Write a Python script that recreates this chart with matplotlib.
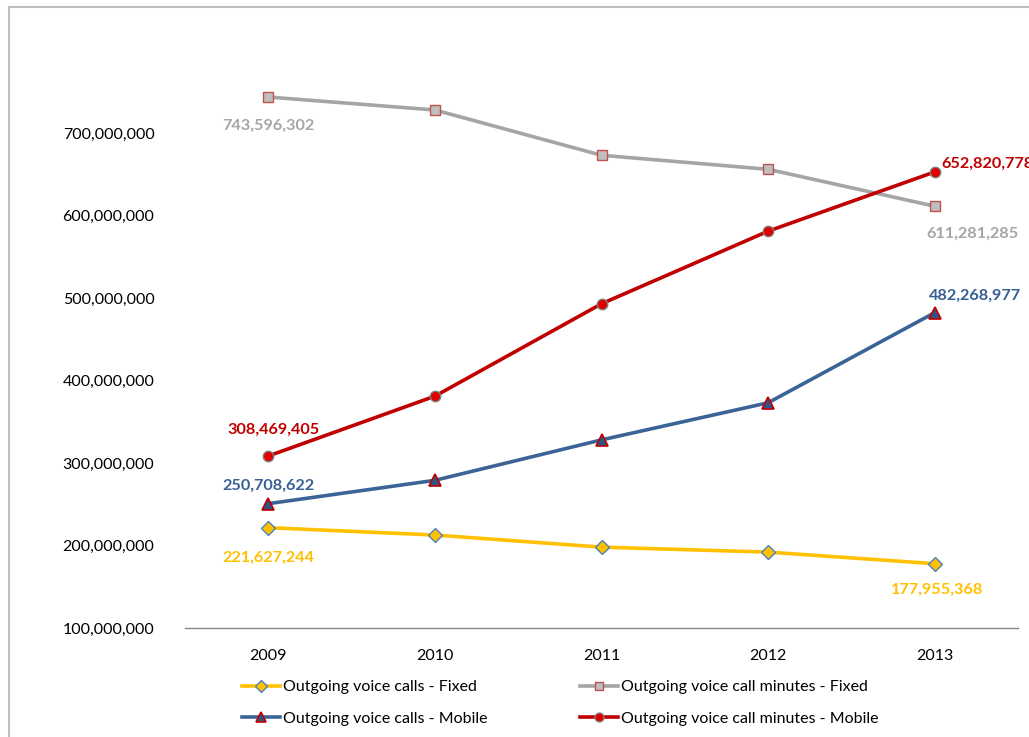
import matplotlib
matplotlib.use("Agg")
import matplotlib.pyplot as plt
from matplotlib.patches import Rectangle
from matplotlib.ticker import FuncFormatter

plt.rcParams['font.family'] = ['Lato', 'DejaVu Sans']

years = ["2009", "2010", "2011", "2012", "2013"]
calls_fixed = [221627244, 212700000, 198000000, 192000000, 177955368]
minutes_fixed = [743596302, 727900000, 673000000, 656000000, 611281285]
calls_mobile = [250708622, 279000000, 328000000, 373000000, 482268977]
minutes_mobile = [308469405, 381000000, 493000000, 581000000, 652820778]

names = ["Outgoing voice calls - Fixed", "Outgoing voice call minutes - Fixed",
         "Outgoing voice calls - Mobile", "Outgoing voice call minutes - Mobile"]

fig = plt.figure(figsize=(10.29, 7.37), dpi=100)
ax = fig.add_axes([185 / 1029, 1 - 628 / 737, (1018 - 185) / 1029, (628 - 50.5) / 737])

x = list(range(len(years)))

l1, = ax.plot(x, calls_fixed, color="#FFC000", lw=2.6, marker="D", ms=7.5,
              mfc="#FFC000", mec="#4F81BD", mew=1.0, label=names[0])
l2, = ax.plot(x, minutes_fixed, color="#A5A5A5", lw=2.6, marker="s", ms=7.5,
              mfc="#BFBFBF", mec="#C0504D", mew=1.0, label=names[1])
l3, = ax.plot(x, calls_mobile, color="#3B6496", lw=2.6, marker="^", ms=8,
              mfc="#2E5486", mec="#C00000", mew=1.2, label=names[2])
l4, = ax.plot(x, minutes_mobile, color="#C00000", lw=2.6, marker="o", ms=7.5,
              mfc="#E00000", mec="#7F7F7F", mew=1.0, label=names[3])

# data labels at first and last points
lab_kw = dict(textcoords="offset points", fontsize=11.7, fontweight="bold", va="center")
ax.annotate(f"{minutes_fixed[0]:,}", (x[0], minutes_fixed[0]), xytext=(0, -21), ha="center", color="#A6A6A6", **lab_kw)
ax.annotate(f"{minutes_fixed[-1]:,}", (x[-1], minutes_fixed[-1]), xytext=(27, -20), ha="center", color="#A6A6A6", **lab_kw)
ax.annotate(f"{minutes_mobile[0]:,}", (x[0], minutes_mobile[0]), xytext=(4, 19), ha="center", color="#C00000", **lab_kw)
ax.annotate(f"{minutes_mobile[-1]:,}", (x[-1], minutes_mobile[-1]), xytext=(5, 6), ha="left", color="#C00000", **lab_kw)
ax.annotate(f"{calls_mobile[0]:,}", (x[0], calls_mobile[0]), xytext=(0, 13), ha="center", color="#376092", **lab_kw)
ax.annotate(f"{calls_mobile[-1]:,}", (x[-1], calls_mobile[-1]), xytext=(29, 12), ha="center", color="#376092", **lab_kw)
ax.annotate(f"{calls_fixed[0]:,}", (x[0], calls_fixed[0]), xytext=(0, -22), ha="center", color="#FFC000", **lab_kw)
ax.annotate(f"{calls_fixed[-1]:,}", (x[-1], calls_fixed[-1]), xytext=(2, -19), ha="center", color="#FFC000", **lab_kw)

ax.set_xlim(-0.5, len(years) - 0.5)
ax.set_ylim(1e8, 8e8)
ax.set_xticks(x)
ax.set_xticklabels(years)
ax.set_yticks([1e8, 2e8, 3e8, 4e8, 5e8, 6e8, 7e8])
ax.yaxis.set_major_formatter(FuncFormatter(lambda v, p: f"{int(v):,}"))
ax.tick_params(axis="both", length=0, labelsize=11.5, colors="black")
ax.tick_params(axis="x", pad=15)
ax.tick_params(axis="y", pad=22)
for s in ["top", "right", "left"]:
    ax.spines[s].set_visible(False)
ax.spines["bottom"].set_color("#868686")
ax.spines["bottom"].set_linewidth(1.0)

fig.legend(handles=[l1, l3, l2, l4], ncol=2, loc="upper left",
           bbox_to_anchor=(242 / 1029, 1 - 680 / 737), frameon=False,
           fontsize=11.5, handlelength=2.4, handletextpad=0.15, columnspacing=5.8,
           labelspacing=1.08, borderpad=0, borderaxespad=0, markerscale=0.85)

fig.patches.append(Rectangle((9 / 1029, -0.1), 2, 1 - 7 / 737 + 0.1, transform=fig.transFigure,
                             fill=False, edgecolor="#BFBFBF", lw=1.5))

fig.savefig("out.png", dpi=100)
